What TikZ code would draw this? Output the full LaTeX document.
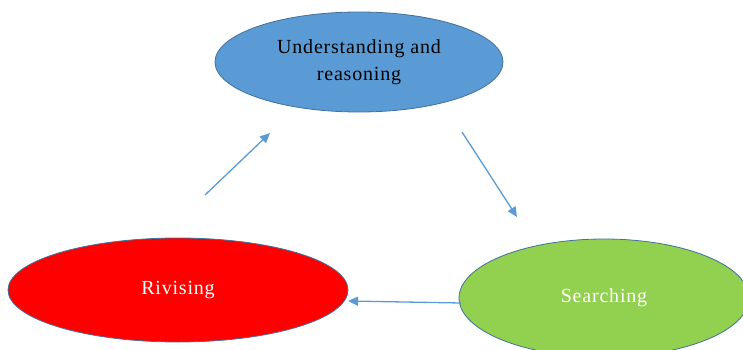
\documentclass[tikz,border=0pt]{standalone}
\usepackage{fontspec}
\setmainfont{Liberation Serif}[LetterSpace=4]
\usetikzlibrary{shapes.geometric,arrows.meta}
\definecolor{sblue}{HTML}{5B9BD5}
\definecolor{sborder}{HTML}{41719C}
\definecolor{sred}{HTML}{FF0000}
\definecolor{sgreen}{HTML}{92D050}
\tikzset{
  oval/.style={ellipse, draw=sborder, line width=0.8pt, inner sep=0pt, align=center,
    font=\fontsize{20}{27}\selectfont},
  flow/.style={draw=sblue, line width=1.3pt, -{Triangle[length=10pt,width=9pt]}}
}
\begin{document}
\begin{tikzpicture}[x=1pt,y=-1pt]
\useasboundingbox (0,0) rectangle (743,350);
\node[oval, fill=sblue, minimum width=288pt, minimum height=100pt] (u) at (359,62) {Understanding and\\reasoning};
\node[oval, fill=sred, text=white, minimum width=340pt, minimum height=104pt] (r) at (178,290) {Rivising};
\node[oval, fill=sgreen, text=white, minimum width=290pt, minimum height=118pt] (s) at (604,298) {Searching};
\coordinate (a1s) at (205,195);
\coordinate (a1e) at (270,133);
\coordinate (a2s) at (462,132);
\coordinate (a2e) at (517,217);
\coordinate (a3s) at (461,303);
\coordinate (a3e) at (348,301);
\draw[flow] (a1s) -- (a1e);
\draw[flow] (a2s) -- (a2e);
\draw[flow] (a3s) -- (a3e);
\end{tikzpicture}
\end{document}
